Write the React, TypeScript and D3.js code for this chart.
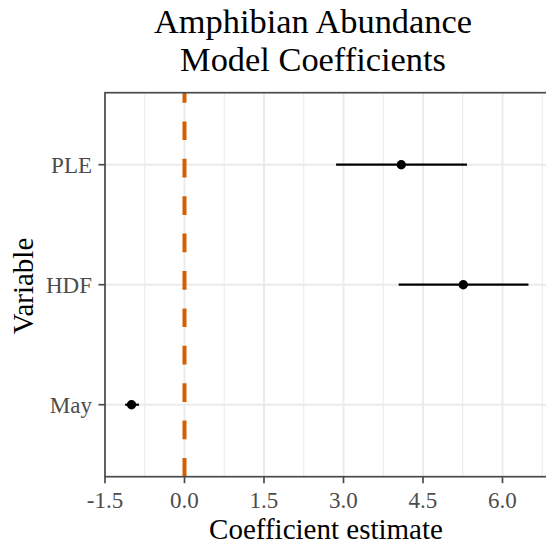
import React from "react";
import * as d3 from "d3";

const variables = ["PLE", "HDF", "May"];
const estimates = [4.09, 5.26, -1.0];
const lowerCI = [2.86, 4.04, -1.12];
const upperCI = [5.33, 6.49, -0.86];
const xTicks = [-1.5, 0, 1.5, 3.0, 4.5, 6.0];
const xMinor = [-0.75, 0.75, 2.25, 3.75, 5.25, 6.75];
const refLine = 0;

const W = 546;
const H = 547;
const panel = { left: 105, top: 92.7, right: 548, bottom: 476.7 };
const FONT = "'Liberation Serif', 'Times New Roman', serif";

const fmt = (v: number) => d3.format(".1f")(v).replace("\u2212", "-");

export default function App() {
  const x = d3.scaleLinear().domain([-1.5, 6.84 + (548 - 547) / 53]).range([panel.left, panel.right]);
  const y = d3
    .scalePoint<string>()
    .domain(variables)
    .range([panel.top + 0.6 * 120, panel.bottom - 0.6 * 120]);

  return (
    <svg
      width={W}
      height={H}
      style={{ position: "absolute", left: 0, top: 0, background: "#fff" }}
      fontFamily={FONT}
    >
      <rect x={0} y={0} width={W} height={H} fill="#fff" />
      {/* Title */}
      <text x={313} y={33.3} textAnchor="middle" fontSize={34.4} fill="#000">
        Amphibian Abundance
      </text>
      <text x={313} y={70.7} textAnchor="middle" fontSize={34.4} fill="#000">
        Model Coefficients
      </text>
      {/* panel background */}
      <rect
        x={panel.left}
        y={panel.top}
        width={panel.right - panel.left}
        height={panel.bottom - panel.top}
        fill="#fff"
      />
      {/* minor grid */}
      {xMinor.map((v) => (
        <line
          key={"mn" + v}
          x1={x(v)}
          x2={x(v)}
          y1={panel.top}
          y2={panel.bottom}
          stroke="#EBEBEB"
          strokeWidth={1.1}
        />
      ))}
      {/* major grid */}
      {xTicks.map((v) => (
        <line
          key={"mj" + v}
          x1={x(v)}
          x2={x(v)}
          y1={panel.top}
          y2={panel.bottom}
          stroke="#EBEBEB"
          strokeWidth={2}
        />
      ))}
      {variables.map((v) => (
        <line
          key={"hy" + v}
          x1={panel.left}
          x2={panel.right}
          y1={y(v)}
          y2={y(v)}
          stroke="#EBEBEB"
          strokeWidth={2}
        />
      ))}
      {/* reference line */}
      <line
        x1={x(refLine)}
        x2={x(refLine)}
        y1={panel.bottom}
        y2={panel.top}
        stroke="#D55E00"
        strokeWidth={4}
        strokeDasharray="18.7 18.7"
      />
      {/* error bars */}
      {variables.map((v, i) => (
        <line
          key={"eb" + v}
          x1={x(lowerCI[i])}
          x2={x(upperCI[i])}
          y1={y(v)}
          y2={y(v)}
          stroke="#000"
          strokeWidth={2.2}
        />
      ))}
      {variables.map((v, i) => (
        <circle key={"pt" + v} cx={x(estimates[i])} cy={y(v)} r={4.7} fill="#000" />
      ))}
      {/* border */}
      <rect
        x={panel.left}
        y={panel.top}
        width={panel.right - panel.left}
        height={panel.bottom - panel.top}
        fill="none"
        stroke="#4a4a4a"
        strokeWidth={1.7}
      />
      {/* x ticks */}
      {xTicks.map((v) => (
        <g key={"xt" + v}>
          <line
            x1={x(v)}
            x2={x(v)}
            y1={panel.bottom}
            y2={panel.bottom + 6.5}
            stroke="#4a4a4a"
            strokeWidth={1.7}
          />
          <text x={x(v)} y={507.5} textAnchor="middle" fontSize={23} fill="#4D4D4D">
            {fmt(v)}
          </text>
        </g>
      ))}
      {/* y ticks */}
      {variables.map((v) => (
        <g key={"yt" + v}>
          <line
            x1={panel.left - 6.5}
            x2={panel.left}
            y1={y(v)}
            y2={y(v)}
            stroke="#4a4a4a"
            strokeWidth={1.7}
          />
          <text
            x={panel.left - 13}
            y={(y(v) as number) + 8}
            textAnchor="end"
            fontSize={23}
            fill="#4D4D4D"
          >
            {v}
          </text>
        </g>
      ))}
      {/* axis titles */}
      <text x={326} y={539.3} textAnchor="middle" fontSize={29} fill="#000">
        Coefficient estimate
      </text>
      <text
        transform={`translate(33,286) rotate(-90)`}
        textAnchor="middle"
        fontSize={29}
        fill="#000"
      >
        Variable
      </text>
    </svg>
  );
}
